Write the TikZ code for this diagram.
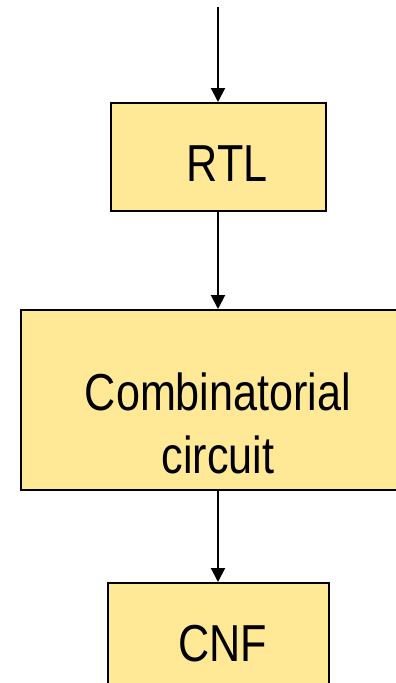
\documentclass[tikz,border=0pt]{standalone}
\usepackage{fontspec}
\setmainfont[FakeStretch=0.83]{Liberation Sans}
\usetikzlibrary{arrows.meta}

\definecolor{boxfill}{RGB}{255,233,150}

\tikzset{
  stage/.style={draw, fill=boxfill, line width=2pt,
    font=\fontsize{52}{63}\selectfont, text height=48pt, text depth=0pt},
  flow/.style={line width=2pt, -{Triangle[length=14pt,width=14pt]}}
}

\begin{document}
\begin{tikzpicture}[x=1pt,y=-1pt]
  \useasboundingbox (0,0) rectangle (396,683);

  \coordinate (in) at (218,7);
  \node[stage, minimum width=215pt, minimum height=108pt] (rtl) at (218,157)
    {\hspace*{18pt}RTL};
  \node[stage, minimum width=394pt, minimum height=180pt, align=center,
    text height=146pt] (comb) at (218,400) {Combinatorial\\circuit};
  \node[stage, minimum width=221pt, minimum height=108pt] (cnf) at (218,637)
    {\hspace*{10pt}CNF};

  \draw[flow] (in) -- (rtl);
  \draw[flow] (rtl) -- (comb);
  \draw[flow] (comb) -- (cnf);
\end{tikzpicture}
\end{document}
